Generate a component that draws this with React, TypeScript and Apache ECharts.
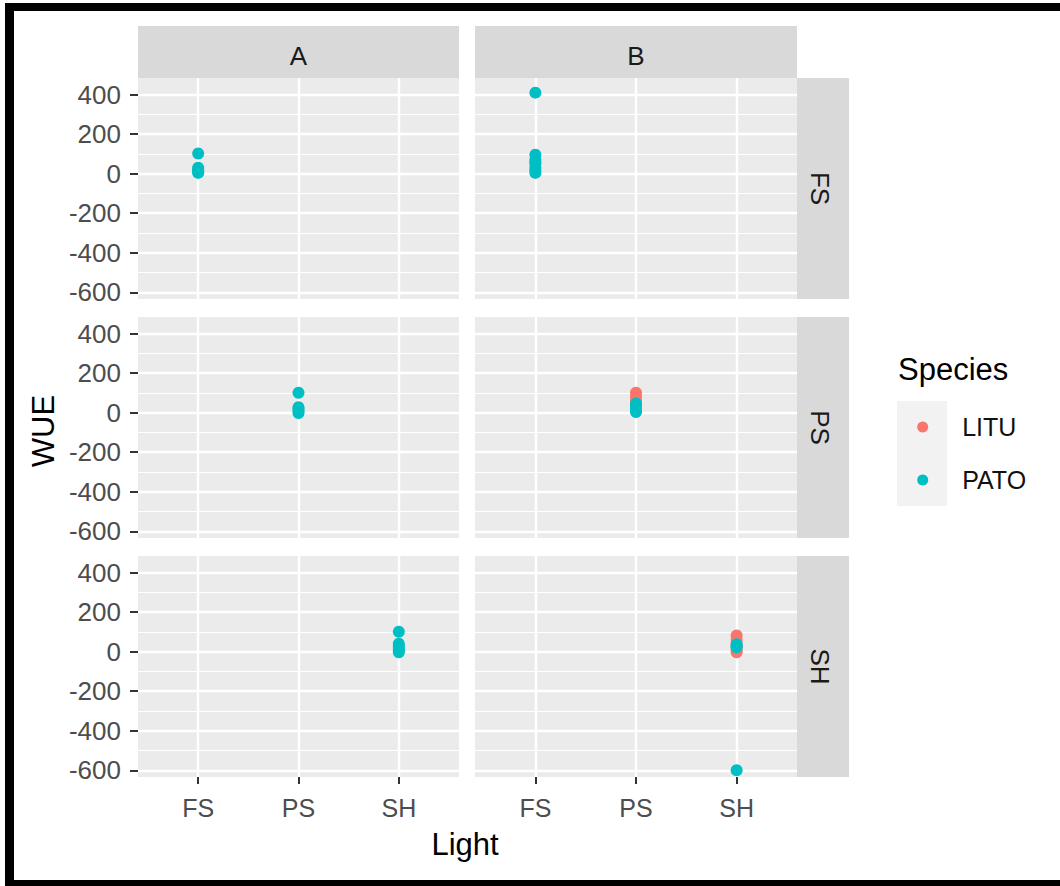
import React, { useEffect, useRef } from "react";
import * as echarts from "echarts";

// ---- data ----
const lightLevels = ["FS", "PS", "SH"];
const treatments = ["A", "B"];
const rowLevels = ["FS", "PS", "SH"];
const species = ["LITU", "PATO"];
const speciesColors = ["#F8766D", "#00BFC4"];
const yTicks = [-600, -400, -200, 0, 200, 400];
const yMinorTicks = [-500, -300, -100, 100, 300];

// WUE values per panel (column treatment, row light) and species
const A_FS_LITU: number[] = [];
const A_FS_PATO = [102, 30, 22, 15, 8, 4];
const B_FS_LITU = [60];
const B_FS_PATO = [410, 96, 70, 50, 30, 15, 4];
const A_PS_LITU: number[] = [];
const A_PS_PATO = [101, 28, 18, 8, -2];
const B_PS_LITU = [101, 80, 60];
const B_PS_PATO = [47, 35, 22, 12, 3];
const A_SH_LITU: number[] = [];
const A_SH_PATO = [101, 40, 28, 16, 5, -3];
const B_SH_LITU = [82, 60, 40, 20, 5, -3];
const B_SH_PATO = [37, 28, 22, -600];

const panels = [
  { col: 0, row: 0, light: "FS", litu: A_FS_LITU, pato: A_FS_PATO },
  { col: 1, row: 0, light: "FS", litu: B_FS_LITU, pato: B_FS_PATO },
  { col: 0, row: 1, light: "PS", litu: A_PS_LITU, pato: A_PS_PATO },
  { col: 1, row: 1, light: "PS", litu: B_PS_LITU, pato: B_PS_PATO },
  { col: 0, row: 2, light: "SH", litu: A_SH_LITU, pato: A_SH_PATO },
  { col: 1, row: 2, light: "SH", litu: B_SH_LITU, pato: B_SH_PATO },
];

const FONT = '"Liberation Sans", Arial, Helvetica, sans-serif';

export default function App() {
  const ref = useRef<HTMLDivElement>(null);
  useEffect(() => {
    if (!ref.current) return;
    const chart = echarts.init(ref.current, null, { renderer: "svg" });

    const colLeft = [138, 475];
    const colWidth = [321, 322];
    const rowTop = [78, 317, 556];
    const rowH = 221;
    const yMin = -634;
    const yMax = 484;

    const grids: any[] = [];
    const xAxes: any[] = [];
    const yAxes: any[] = [];
    const series: any[] = [];

    panels.forEach((p, i) => {
      grids.push({
        left: colLeft[p.col],
        top: rowTop[p.row],
        width: colWidth[p.col],
        height: rowH,
        show: true,
        backgroundColor: "#EBEBEB",
        borderWidth: 0,
        containLabel: false,
      });
      const bottomRow = p.row === 2;
      const leftCol = p.col === 0;
      xAxes.push({
        type: "value",
        gridIndex: i,
        min: 0.4,
        max: 3.6,
        axisLine: { show: false, onZero: false },
        axisTick: {
          show: bottomRow,
          length: 7,
          customValues: [1, 2, 3],
          lineStyle: { color: "#333333", width: 2 },
        },
        axisLabel: {
          show: bottomRow,
          customValues: [1, 2, 3],
          formatter: (v: number) => lightLevels[Math.round(v) - 1] ?? "",
          fontSize: 25,
          color: "#4D4D4D",
          fontFamily: FONT,
          margin: 18,
        },
        splitLine: { show: true, lineStyle: { color: "#FFFFFF", width: 2.4 } },
      });
      yAxes.push({
        type: "value",
        gridIndex: i,
        min: yMin,
        max: yMax,
        position: "left",
        axisLine: { show: false, onZero: false },
        axisTick: {
          show: leftCol,
          length: 8,
          customValues: yTicks,
          lineStyle: { color: "#333333", width: 2 },
        },
        axisLabel: {
          show: leftCol,
          customValues: yTicks,
          fontSize: 26,
          color: "#4D4D4D",
          fontFamily: FONT,
          margin: 17,
        },
        splitLine: { show: true, lineStyle: { color: "#FFFFFF", width: 2.4 } },
      });
      yAxes.push({
        type: "value",
        gridIndex: i,
        min: yMin,
        max: yMax,
        position: "left",
        axisLine: { show: false, onZero: false },
        axisTick: { show: false, customValues: yMinorTicks },
        axisLabel: { show: false, customValues: yMinorTicks },
        splitLine: { show: true, lineStyle: { color: "#FFFFFF", width: 1.2 } },
      });
      const xPos = lightLevels.indexOf(p.light) + 1;
      [p.litu, p.pato].forEach((vals, s) => {
        series.push({
          type: "scatter",
          name: species[s],
          xAxisIndex: i,
          yAxisIndex: i * 2,
          data: vals.map((v) => [xPos, v]),
          symbol: "circle",
          symbolSize: 12,
          itemStyle: { color: speciesColors[s], opacity: 1 },
          emphasis: { disabled: true },
          silent: true,
        });
      });
    });

    const graphic: any[] = [];
    // strips (top)
    treatments.forEach((t, c) => {
      graphic.push({
        type: "rect",
        shape: { x: colLeft[c], y: 26, width: colWidth[c], height: 52 },
        style: { fill: "#D9D9D9" },
      });
      graphic.push({
        type: "text",
        x: colLeft[c] + colWidth[c] / 2,
        y: 56,
        style: {
          text: t,
          fontSize: 26,
          fontFamily: FONT,
          fill: "#1A1A1A",
          align: "center",
          verticalAlign: "middle",
          textAlign: "center",
          textVerticalAlign: "middle",
        },
      });
    });
    // strips (right)
    rowLevels.forEach((r, ri) => {
      graphic.push({
        type: "rect",
        shape: { x: 797, y: rowTop[ri], width: 52, height: rowH },
        style: { fill: "#D9D9D9" },
      });
      graphic.push({
        type: "text",
        x: 820,
        y: rowTop[ri] + rowH / 2,
        rotation: -Math.PI / 2,
        style: {
          text: r,
          fontSize: 26,
          fontFamily: FONT,
          fill: "#1A1A1A",
          align: "center",
          verticalAlign: "middle",
          textAlign: "center",
          textVerticalAlign: "middle",
        },
      });
    });
    // axis titles
    graphic.push({
      type: "text",
      x: 43,
      y: 431,
      rotation: Math.PI / 2,
      style: {
        text: "WUE",
        fontSize: 31,
        fontFamily: FONT,
        fill: "#000000",
        align: "center",
        verticalAlign: "middle",
        textAlign: "center",
        textVerticalAlign: "middle",
      },
    });
    graphic.push({
      type: "text",
      x: 465,
      y: 844,
      style: {
        text: "Light",
        fontSize: 31,
        fontFamily: FONT,
        fill: "#000000",
        align: "center",
        verticalAlign: "middle",
        textAlign: "center",
        textVerticalAlign: "middle",
      },
    });
    // legend background & title
    graphic.push({
      type: "rect",
      shape: { x: 897, y: 401, width: 50, height: 105 },
      style: { fill: "#F2F2F2" },
      z: -1,
    });
    graphic.push({
      type: "text",
      x: 898,
      y: 369,
      style: {
        text: "Species",
        fontSize: 31,
        fontFamily: FONT,
        fill: "#000000",
        align: "left",
        verticalAlign: "middle",
        textAlign: "left",
        textVerticalAlign: "middle",
      },
    });
    // outer black frame
    graphic.push({ type: "rect", shape: { x: 5, y: 3, width: 1055, height: 8 }, style: { fill: "#000" } });
    graphic.push({ type: "rect", shape: { x: 5, y: 3, width: 9, height: 883 }, style: { fill: "#000" } });
    graphic.push({ type: "rect", shape: { x: 5, y: 880, width: 1055, height: 6 }, style: { fill: "#000" } });

    chart.setOption({
      animation: false,
      backgroundColor: "#FFFFFF",
      grid: grids,
      xAxis: xAxes,
      yAxis: yAxes,
      series,
      legend: {
        data: species,
        orient: "vertical",
        left: 917.2,
        top: 414.5,
        padding: 0,
        itemWidth: 11,
        itemHeight: 11,
        itemGap: 28,
        icon: "circle",
        selectedMode: false,
        textStyle: {
          fontSize: 25,
          color: "#111111",
          fontFamily: FONT,
          lineHeight: 25,
          padding: [0, 0, 0, 29],
        },
      },
      graphic,
    });
    return () => chart.dispose();
  }, []);
  return (
    <div
      ref={ref}
      style={{ position: "fixed", left: 0, top: 0, width: 1060, height: 886 }}
    />
  );
}
